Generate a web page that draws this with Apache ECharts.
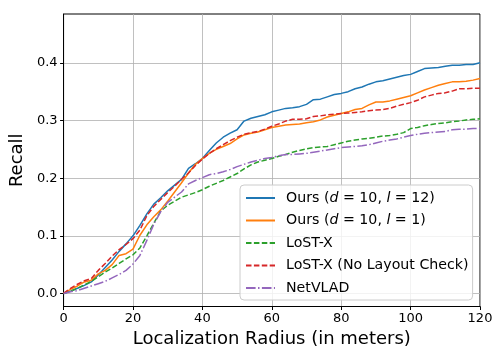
<!DOCTYPE html>
<html>
<head>
<meta charset="utf-8">
<script src="https://cdn.jsdelivr.net/npm/echarts@6/dist/echarts.min.js"></script>
<style>
  html, body { margin: 0; padding: 0; background: #fff; }
  #main { width: 504px; height: 360px; }
</style>
</head>
<body>
<div id="main"></div>
<script>
// localization radius in meters
const radius = [0, 2, 4, 6, 8, 10, 12, 14, 16, 18, 20, 22, 24, 26, 28, 30, 32, 34, 36, 38, 40,
  42, 44, 46, 48, 50, 52, 54, 56, 58, 60, 62, 64, 66, 68, 70, 72, 74, 76, 78, 80,
  82, 84, 86, 88, 90, 92, 94, 96, 98, 100, 102, 104, 106, 108, 110, 112, 114, 116, 118, 120];

const oursL12 = [0, 0.004, 0.009, 0.014, 0.020, 0.032, 0.045, 0.058, 0.073, 0.086, 0.100,
  0.118, 0.138, 0.155, 0.166, 0.178, 0.188, 0.198, 0.217, 0.225, 0.234,
  0.248, 0.261, 0.271, 0.278, 0.284, 0.299, 0.304, 0.307, 0.310, 0.315,
  0.318, 0.321, 0.322, 0.324, 0.328, 0.336, 0.337, 0.341, 0.345, 0.347,
  0.350, 0.355, 0.358, 0.363, 0.367, 0.369, 0.372, 0.375, 0.378, 0.380,
  0.385, 0.390, 0.391, 0.392, 0.394, 0.396, 0.396, 0.397, 0.397, 0.400];

const oursL1 = [0, 0.007, 0.013, 0.020, 0.023, 0.034, 0.040, 0.050, 0.066, 0.069, 0.077,
  0.101, 0.119, 0.133, 0.145, 0.160, 0.176, 0.192, 0.209, 0.224, 0.234,
  0.243, 0.250, 0.255, 0.260, 0.268, 0.275, 0.278, 0.280, 0.284, 0.288,
  0.290, 0.292, 0.293, 0.294, 0.296, 0.298, 0.301, 0.306, 0.309, 0.312,
  0.315, 0.319, 0.321, 0.327, 0.332, 0.332, 0.334, 0.337, 0.340, 0.343,
  0.348, 0.353, 0.357, 0.361, 0.364, 0.367, 0.367, 0.368, 0.370, 0.373];

const lostX = [0, 0.004, 0.009, 0.015, 0.021, 0.029, 0.037, 0.044, 0.052, 0.060, 0.067,
  0.079, 0.100, 0.122, 0.143, 0.153, 0.160, 0.167, 0.171, 0.175, 0.180,
  0.186, 0.191, 0.196, 0.202, 0.208, 0.216, 0.223, 0.228, 0.231, 0.234,
  0.238, 0.241, 0.245, 0.248, 0.251, 0.253, 0.254, 0.255, 0.258, 0.261,
  0.264, 0.266, 0.268, 0.269, 0.271, 0.273, 0.274, 0.276, 0.279, 0.286,
  0.288, 0.291, 0.293, 0.295, 0.296, 0.298, 0.299, 0.301, 0.302, 0.303];

const lostXNoLayout = [0, 0.009, 0.016, 0.022, 0.026, 0.040, 0.052, 0.065, 0.076, 0.085, 0.095,
  0.110, 0.135, 0.151, 0.163, 0.175, 0.186, 0.198, 0.209, 0.222, 0.233,
  0.243, 0.251, 0.258, 0.265, 0.271, 0.276, 0.279, 0.281, 0.285, 0.290,
  0.294, 0.299, 0.302, 0.302, 0.303, 0.307, 0.308, 0.310, 0.311, 0.312,
  0.313, 0.314, 0.315, 0.317, 0.318, 0.319, 0.321, 0.325, 0.328, 0.331,
  0.335, 0.341, 0.344, 0.347, 0.348, 0.351, 0.355, 0.355, 0.356, 0.356];

const netVLAD = [0, 0.003, 0.005, 0.009, 0.013, 0.017, 0.021, 0.027, 0.033, 0.040, 0.051,
  0.066, 0.092, 0.120, 0.142, 0.158, 0.167, 0.176, 0.190, 0.196, 0.201,
  0.206, 0.208, 0.211, 0.215, 0.220, 0.224, 0.228, 0.231, 0.234, 0.236,
  0.239, 0.241, 0.241, 0.242, 0.243, 0.245, 0.247, 0.249, 0.251, 0.253,
  0.254, 0.255, 0.256, 0.258, 0.261, 0.264, 0.266, 0.268, 0.271, 0.274,
  0.276, 0.278, 0.279, 0.280, 0.281, 0.284, 0.285, 0.285, 0.286, 0.286];

const xTicks = [0, 20, 40, 60, 80, 100, 120];
const yTicks = [0, 0.1, 0.2, 0.3, 0.4];

const seriesNames = [
  'Ours (d = 10, l = 12)',
  'Ours (d = 10, l = 1)',
  'LoST-X',
  'LoST-X (No Layout Check)',
  'NetVLAD'
];
const seriesValues = [oursL12, oursL1, lostX, lostXNoLayout, netVLAD];
const colors = ['#1f77b4', '#ff7f0e', '#2ca02c', '#d62728', '#9467bd'];
const dashes = ['solid', 'solid', [5.5, 2.4], [5.5, 2.4], [9.6, 2.4, 1.5, 2.4]];

const font = 'DejaVu Sans';

const chart = echarts.init(document.getElementById('main'), null, { renderer: 'canvas' });

const series = seriesNames.map((name, i) => ({
  name: name,
  type: 'line',
  data: radius.map((r, j) => [r, seriesValues[i][j]]),
  symbol: 'none',
  showSymbol: false,
  animation: false,
  lineStyle: { color: colors[i], width: 1.5, type: dashes[i] },
  itemStyle: { color: colors[i] },
  z: 3
}));

// math-style legend labels: italic d and l
function legendLabel(name) {
  const m = name.match(/^Ours \(d = (\d+), l = (\d+)\)$/);
  if (!m) return name;
  return 'Ours ({it|d} = ' + m[1] + ', {it|l} = ' + m[2] + ')';
}

chart.setOption({
  animation: false,
  backgroundColor: '#fff',
  grid: {
    left: 62, right: 24, top: 14, bottom: 53.5,
    show: true, borderColor: '#000', borderWidth: 1, backgroundColor: 'transparent'
  },
  xAxis: {
    type: 'value',
    min: 0, max: 120, interval: 20,
    name: 'Localization Radius (in meters)',
    nameLocation: 'middle',
    nameGap: 23,
    nameTextStyle: { fontFamily: font, fontSize: 18, color: '#000' },
    axisLine: { show: true, onZero: false, lineStyle: { color: '#000', width: 1 } },
    axisTick: { show: true, inside: false, length: 3.5, lineStyle: { color: '#000' }, customValues: xTicks },
    axisLabel: { fontFamily: font, fontSize: 13, color: '#000', margin: 6, customValues: xTicks },
    splitLine: { show: true, lineStyle: { color: '#b0b0b0', width: 0.8 } }
  },
  yAxis: {
    type: 'value',
    min: -0.0226, max: 0.4847,
    name: 'Recall',
    nameLocation: 'middle',
    nameGap: 33,
    nameRotate: 90,
    nameTextStyle: { fontFamily: font, fontSize: 18, color: '#000' },
    axisLine: { show: true, onZero: false, lineStyle: { color: '#000', width: 1 } },
    axisTick: { show: true, inside: false, length: 3.5, lineStyle: { color: '#000' }, customValues: yTicks },
    axisLabel: {
      fontFamily: font, fontSize: 13, color: '#000', margin: 6,
      customValues: yTicks,
      formatter: v => v.toFixed(1)
    },
    splitLine: { show: true, lineStyle: { color: '#b0b0b0', width: 0.8 } }
  },
  legend: {
    orient: 'vertical',
    left: 240, top: 185,
    padding: [6, 4, 5, 5],
    itemWidth: 29, itemHeight: 14, itemGap: 8.5,
    backgroundColor: 'rgba(255,255,255,0.8)',
    borderColor: '#cccccc', borderWidth: 1, borderRadius: 4,
    itemStyle: { opacity: 0 },
    data: seriesNames,
    formatter: legendLabel,
    textStyle: {
      fontFamily: font, fontSize: 14.2, color: '#000',
      padding: [0, 0, 0, 6],
      rich: { it: { fontFamily: font, fontSize: 14.2, fontStyle: 'italic', color: '#000' } }
    }
  },
  series: series
});
</script>
</body>
</html>
